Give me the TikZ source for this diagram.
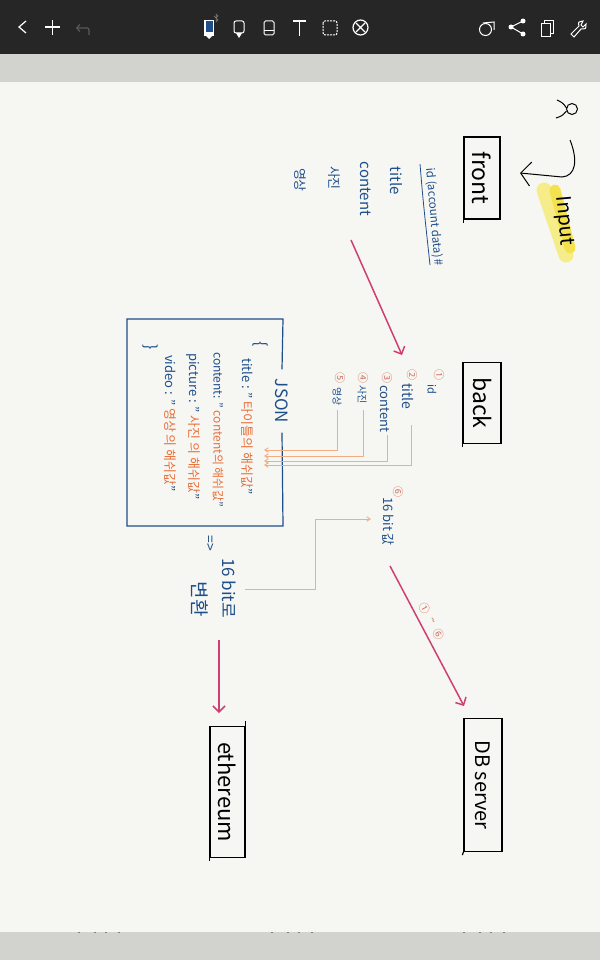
\documentclass[tikz,border=0pt]{standalone}
\usepackage{fontspec}
\setmainfont{Noto Sans CJK KR}
\usetikzlibrary{arrows.meta}
\definecolor{barcol}{HTML}{262626}
\definecolor{bandcol}{HTML}{D2D3CE}
\definecolor{papercol}{HTML}{F6F7F2}
\definecolor{inkblue}{HTML}{1F4E8C}
\definecolor{inkorange}{HTML}{E8703C}
\definecolor{inkpink}{HTML}{CF3F74}
\definecolor{linkorange}{HTML}{F2AD82}
\definecolor{numred}{HTML}{D0705E}
\definecolor{marker}{HTML}{F7EC8A}
\definecolor{markertwo}{HTML}{F3E24E}
\newcommand{\fs}[1]{\fontsize{#1}{#1}\selectfont}
\begin{document}
\begin{tikzpicture}[
    x=1pt,y=-1pt,
    every node/.style={rotate=-90,inner sep=0pt},
    stagebox/.style={draw=black,line width=1.2pt,text=black},
    blueword/.style={text=inkblue},
    jsonline/.style={text=inkblue,anchor=west},
    numcircle/.style={text=numred,font=\fs{11}},
    pinkarrow/.style={draw=inkpink,line width=1.5pt,-{Straight Barb[length=6pt,width=12pt]}},
    orangelink/.style={draw=linkorange,line width=0.9pt,-{Straight Barb[length=3.5pt,width=4.5pt]}},
    toolicon/.style={draw=white,line width=1pt}
]

% Fond
\fill[papercol] (0,0) rectangle (600,960);
\fill[bandcol] (0,54) rectangle (600,82);
\fill[bandcol] (0,932) rectangle (600,960);
\fill[barcol] (0,0) rectangle (600,54);
\useasboundingbox (0,0) rectangle (600,960);

% Barre d'outils
\draw[toolicon,line width=1.2pt] (26,21) -- (19,27) -- (26,33);
\draw[toolicon,line width=1.2pt] (45,27) -- (60,27) (52.5,20) -- (52.5,35);
\draw[draw=gray!70!black,line width=1.2pt,rounded corners=2pt,-{Straight Barb[length=3pt,width=7pt]}] (89,35) -- (89,28) -- (76,28);
\fill[white] (204,20) rectangle (214,36);
\fill[inkblue] (205.5,21.5) rectangle (212.5,32);
\fill[white] (206,36) -- (212,36) -- (209,39) -- cycle;
\draw[draw=gray,line width=0.5pt] (216,18) -- (218,16) -- (216,14) -- (216,22) -- (218,20) -- (214,16);
\draw[toolicon,rounded corners=2pt] (234,21) rectangle (244,33);
\fill[white] (236,33) -- (242,33) -- (239,38) -- cycle;
\draw[toolicon,rounded corners=1.5pt] (264,21) rectangle (274,35);
\draw[toolicon] (264,31) -- (274,31);
\draw[toolicon,line width=1.2pt] (293,21) -- (306,21) (299.5,21) -- (299.5,36);
\draw[toolicon,dashed,rounded corners=2pt,dash pattern=on 2pt off 1pt] (323,21) rectangle (337,35);
\draw[toolicon,line width=1.2pt] (360.5,27.5) circle (7.5pt);
\draw[toolicon,line width=1.2pt] (356,23) -- (365,32) (365,23) -- (356,32);
\draw[toolicon] (485.5,29.5) circle (6pt);
\draw[toolicon] (483,23) -- (494,22) -- (494,30);
\fill[white] (511,27) circle (2.5pt) (523,21) circle (2.5pt) (523,34) circle (2.5pt);
\draw[toolicon] (523,21) -- (511,27) -- (523,34);
\draw[toolicon] (541,24) rectangle (550,37);
\draw[toolicon] (544,24) -- (544,21) -- (553,21) -- (553,34) -- (550,34);
\draw[toolicon] (571,34) -- (579,26) .. controls (578,22) .. (583,21) -- (581,25) -- (583,27) -- (586,24) .. controls (586,29) .. (581,29) -- (574,37) -- cycle;

% Marques en bas
\foreach \xa in {78,271,463} {
    \foreach \xb in {0,16,27,40} {
        \fill[gray] (\xa+\xb,931.5) rectangle ++(2,1);
    }
}

% Personnage et entree
\draw[draw=marker,line width=15pt,line cap=round] (544,190) -- (566,255);
\draw[draw=markertwo,line width=11pt,line cap=round] (555,190) -- (570,248);
\draw[line width=1pt] (572,109) circle (5.5pt);
\draw[line width=1pt] (557,100) .. controls (563,103) .. (566.5,108);
\draw[line width=1pt] (556,118) .. controls (562,116) .. (566.5,111);
\node[text=black,font=\fs{20},rotate=5] (input) at (564,221) {Input};
\coordinate (userfoot) at (570,140);
\coordinate (frontside) at (520,173);
\draw[line width=1pt,-{Straight Barb[length=10pt,width=24pt]}] (userfoot) .. controls (578,160) and (576,176) .. (562,177) -- (frontside);

% Boites
\node[stagebox,font=\fs{23},minimum width=82pt,minimum height=36pt] (front) at (482,178) {front};
\node[stagebox,font=\fs{23},minimum width=81pt,minimum height=38pt] (back) at (482,403) {back};
\node[stagebox,font=\fs{20},minimum width=133pt,minimum height=38pt] (db) at (483,785) {DB server};
\node[stagebox,font=\fs{22},minimum width=131pt,minimum height=35pt] (ethereum) at (227.5,792) {ethereum};
\draw[line width=1.2pt] (front.south east) -- ++(0,3);
\draw[line width=1.2pt] (back.south east) -- ++(0,3);
\draw[line width=1.2pt] (db.south east) -- ++(-1,3);
\draw[line width=1.2pt] (ethereum.south east) -- ++(0,3);
\draw[line width=1.2pt] (ethereum.north west) -- ++(0,-5);

% Liste front
\node[blueword,font=\fs{11.5},rotate=5] (faccount) at (434,217) {id (account data)\,\#};
\draw[draw=inkblue,line width=0.8pt] (420,164) .. controls (423,200) .. (430,265);
\node[blueword,font=\fs{15}] (ftitle) at (396,181) {title};
\node[blueword,font=\fs{15}] (fcontent) at (366,189) {content};
\node[blueword,font=\fs{13}] (fphoto) at (334,178) {사진};
\node[blueword,font=\fs{13}] (fvideo) at (300,180) {영상};

% Liste back
\node[numcircle] (n1) at (439,375) {①};
\node[numcircle] (n2) at (412,375) {②};
\node[numcircle] (n3) at (387,378) {③};
\node[numcircle] (n4) at (363,378) {④};
\node[numcircle] (n5) at (340,378) {⑤};
\node[numcircle] (n6) at (398,492) {⑥};
\node[blueword,font=\fs{11},anchor=west] (bid) at (432,384) {id};
\node[blueword,font=\fs{14},anchor=west] (btitle) at (408,383) {title};
\node[blueword,font=\fs{13},anchor=west] (bcontent) at (385,385) {content};
\node[blueword,font=\fs{10},anchor=west] (bphoto) at (362,385) {사진};
\node[blueword,font=\fs{10},anchor=west] (bvideo) at (337,387) {영상};
\node[blueword,font=\fs{13},anchor=west] (bhash) at (388,497) {16 bit 값};

% Boite JSON
\node[text=inkblue,font=\fs{17},minimum width=63pt] (jsonlabel) at (282,401) {JSON};
\draw[draw=inkblue,line width=1.2pt] (jsonlabel.west) -- (283,319) -- (127,319) -- (127,526) -- (283,526) -- (jsonlabel.east);
\node[text=inkblue,font=\fs{16}] (openbrace) at (260,344) {\{};
\node[text=inkblue,font=\fs{16}] (closebrace) at (150,347) {\}};
\node[jsonline,font=\fs{13}] (jtitle) at (247,358) {title : " \textcolor{inkorange}{타이틀의 해쉬값}"};
\node[jsonline,font=\fs{12}] (jcontent) at (218,352) {content: " \textcolor{inkorange}{content의 해쉬값}"};
\node[jsonline,font=\fs{13}] (jpicture) at (193,353) {picture : " \textcolor{inkorange}{사진 의 해쉬값}"};
\node[jsonline,font=\fs{13}] (jvideo) at (170,355) {video : " \textcolor{inkorange}{영상 의 해쉬값}"};

% Fleches orange vers JSON
\coordinate (t1) at (264,465);
\coordinate (t2) at (264,461);
\coordinate (t3) at (264,456);
\coordinate (t4) at (264,450);
\coordinate (s1) at (411,425);
\coordinate (s2) at (387,435);
\coordinate (s3) at (363,410);
\coordinate (s4) at (337,410);
\draw[orangelink] (s1) |- (t1);
\draw[orangelink] (s2) |- (t2);
\draw[orangelink] (s3) |- (t3);
\draw[orangelink] (s4) |- (t4);

% Conversion 16 bit
\node[text=inkblue,font=\fs{14}] (implies) at (210,543) {=>};
\node[blueword,font=\fs{17}] (bitline) at (229,588) {16 bit로};
\node[blueword,font=\fs{19}] (convert) at (200,599) {변환};
\coordinate (bitstart) at (245,589);
\coordinate (bitend) at (371,519);
\draw[orangelink] (bitstart) -- (315,589) |- (bitend);

% Fleches roses
\coordinate (fa) at (351,240);
\coordinate (fb) at (402,355);
\coordinate (da) at (390,566);
\coordinate (db0) at (464,706);
\coordinate (ea) at (219,640);
\coordinate (eb) at (219,713);
\draw[pinkarrow] (fa) -- (fb);
\draw[pinkarrow] (da) -- (db0);
\draw[pinkarrow] (ea) -- (eb);
\node[numcircle,rotate=28] (allfrom) at (425,608) {①};
\node[numcircle,rotate=28] (alltilde) at (432,621) {\textasciitilde};
\node[numcircle,rotate=28] (allto) at (439,634) {⑥};

\end{tikzpicture}
\end{document}
